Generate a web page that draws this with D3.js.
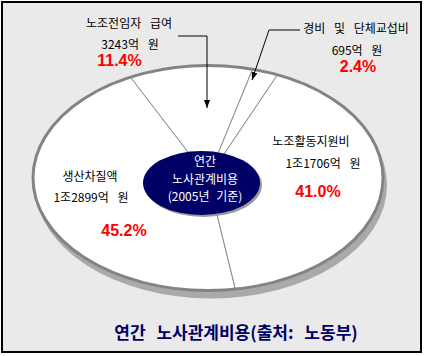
<!DOCTYPE html>
<html><head><meta charset="utf-8">
<script src="https://cdn.jsdelivr.net/npm/d3@7"></script>
<style>html,body{margin:0;padding:0;background:#fff;} svg{display:block}</style>
</head><body>
<script>
// ---- data ----
const categories = ["생산차질액", "노조전임자 급여", "경비 및 단체교섭비", "노조활동지원비"];
const amounts = ["1조2899억 원", "3243억 원", "695억 원", "1조1706억 원"];
const shares = [45.2, 11.4, 2.4, 41.0];
const centerLines = ["연간", "노사관계비용", "(2005년 기준)"];
const title = "연간 노사관계비용(출처: 노동부)";

// ---- layout ----
const W = 424, H = 356;
const cx = 208, cy = 178, rx = 175, ry = 112.5;
const startDeg = 171;
// label anchors per category: [name, amount, percent] as [x, y]
const labelPos = [
  [[90, 181], [91, 202], [124, 236]],
  [[129, 28], [130, 49], [119.5, 66]],
  [[356, 33], [357, 55], [358, 72]],
  [[311, 146], [323, 168], [318, 197]]
];
const arrows = [
  [[178, 36], [207, 36], [207, 108]],
  [[300, 30], [269, 30], [252, 80]]
];

const svg = d3.select("body").append("svg").attr("width", W).attr("height", H);
const defs = svg.append("defs");
defs.append("marker").attr("id", "ah").attr("markerUnits", "userSpaceOnUse")
  .attr("markerWidth", 8).attr("markerHeight", 6).attr("refX", 8).attr("refY", 3)
  .attr("orient", "auto")
  .append("path").attr("d", "M0,0 L8,3 L0,6 Z").attr("fill", "#000");

// frame
svg.append("rect").attr("x", 2).attr("y", 2).attr("width", 419).attr("height", 350)
  .attr("fill", "#eaeaea").attr("stroke", "#000").attr("stroke-width", 2);

// pie shadow
svg.append("ellipse").attr("cx", cx + 3).attr("cy", cy + 7).attr("rx", rx + 1).attr("ry", ry + 1)
  .attr("fill", "#a9a9a9");

const start = startDeg * Math.PI / 180;
const pie = d3.pie().sort(null).startAngle(start).endAngle(start + 2 * Math.PI);
const arcs = pie(shares);
const arc = d3.arc().innerRadius(0).outerRadius(rx);
const g = svg.append("g").attr("transform", `translate(${cx},${cy}) scale(1,${ry / rx})`);
g.selectAll("path").data(arcs).join("path")
  .attr("d", arc).attr("fill", "#fff")
  .attr("stroke", "#8c8c8c").attr("stroke-width", 1)
  .attr("vector-effect", "non-scaling-stroke");

// outer rim
svg.append("ellipse").attr("cx", cx).attr("cy", cy).attr("rx", rx).attr("ry", ry)
  .attr("fill", "none").attr("stroke", "#838383").attr("stroke-width", 3);

// center ellipse
svg.append("ellipse").attr("cx", 203.5).attr("cy", 185).attr("rx", 58.5).attr("ry", 32)
  .attr("fill", "#9a9a9a");
svg.append("ellipse").attr("cx", 201.5).attr("cy", 183).attr("rx", 58.5).attr("ry", 32)
  .attr("fill", "#000066");
svg.append("g").selectAll("text").data(centerLines).join("text")
  .attr("x", 205).attr("y", (d, i) => 166 + i * 17.6)
  .attr("text-anchor", "middle")
  .attr("font-family", "'Noto Sans CJK KR', sans-serif")
  .attr("font-size", 12).attr("fill", "#fff").attr("word-spacing", 4)
  .text(d => d);

// labels
const lab = svg.append("g");
categories.forEach((c, i) => {
  const p = labelPos[i];
  lab.append("text").attr("x", p[0][0]).attr("y", p[0][1]).attr("text-anchor", "middle")
    .attr("font-family", "'Noto Sans CJK KR', sans-serif").attr("font-size", 12)
    .attr("word-spacing", 6).attr("fill", "#000").text(c);
  lab.append("text").attr("x", p[1][0]).attr("y", p[1][1]).attr("text-anchor", "middle")
    .attr("font-family", "'Noto Sans CJK KR', sans-serif").attr("font-size", 12)
    .attr("word-spacing", 6).attr("fill", "#000").text(amounts[i]);
  lab.append("text").attr("x", p[2][0]).attr("y", p[2][1]).attr("text-anchor", "middle")
    .attr("font-family", "'Liberation Sans', Arial, sans-serif").attr("font-size", 16)
    .attr("font-weight", "bold").attr("fill", "#ff0000").text(d3.format(".1f")(shares[i]) + "%");
});

// arrows
const line = d3.line();
svg.append("g").selectAll("path").data(arrows).join("path")
  .attr("d", line).attr("fill", "none").attr("stroke", "#000").attr("stroke-width", 1)
  .attr("marker-end", "url(#ah)");

// title
svg.append("text").attr("x", 236).attr("y", 339).attr("text-anchor", "middle")
  .attr("font-family", "'Noto Sans CJK KR', sans-serif").attr("font-size", 17)
  .attr("font-weight", "bold").attr("fill", "#000066").attr("word-spacing", 7)
  .text(title);
</script>
</body></html>
